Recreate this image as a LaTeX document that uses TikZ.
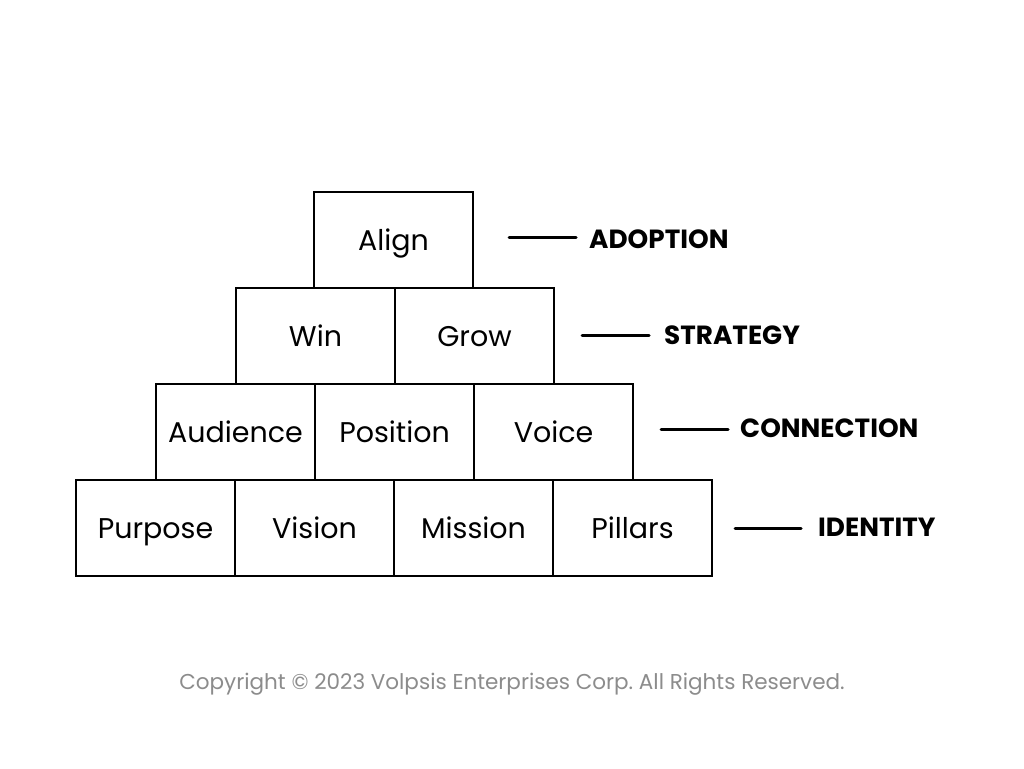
\documentclass[tikz,border=0pt]{standalone}
\usepackage{fontspec}
\setmainfont{Poppins}
\frenchspacing
\begin{document}
\begin{tikzpicture}[x=1pt,y=-1pt,
  blk/.style={draw=black,line width=2pt,minimum width=159pt,minimum height=96pt,inner sep=0pt,text height=20pt,text depth=0pt,font=\fontsize{28.5}{30}\selectfont},
  lvl/.style={anchor=west,inner sep=0pt,text height=17pt,text depth=0pt,font=\fontsize{26.3}{28}\selectfont\bfseries},
  tick/.style={line width=3pt,line cap=round}]
\useasboundingbox[fill=white] (0,0) rectangle (1024,768);
% row 1
\node[blk] (align) at (393.5,240) {Align};
% row 2
\node[blk] (win) at (315.5,336) {Win};
\node[blk] (grow) at (474.5,336) {Grow};
% row 3
\node[blk] (aud) at (235.5,432) {Audience};
\node[blk] (pos) at (394.5,432) {Position};
\node[blk] (voice) at (553.5,432) {Voice};
% row 4
\node[blk] (purp) at (155.5,528) {Purpose};
\node[blk] (vis) at (314.5,528) {Vision};
\node[blk] (miss) at (473.5,528) {Mission};
\node[blk] (pill) at (632.5,528) {Pillars};
% labels
\coordinate (a1) at (509,237); \coordinate (a2) at (576,237);
\node[lvl] (adop) at (589,239.5) {ADOPTION};
\coordinate (s1) at (582,335); \coordinate (s2) at (649,335);
\node[lvl] (strat) at (664,336) {STRATEGY};
\coordinate (c1) at (661,429); \coordinate (c2) at (728,429);
\node[lvl] (conn) at (740,428.5) {CONNECTION};
\coordinate (i1) at (735,528); \coordinate (i2) at (801,528);
\node[lvl] (ident) at (818,527.5) {IDENTITY};
\draw[tick] (a1) -- (a2);
\draw[tick] (s1) -- (s2);
\draw[tick] (c1) -- (c2);
\draw[tick] (i1) -- (i2);
\node[text=black!45,font=\fontsize{21.5}{24}\selectfont] (copy) at (512,684) {Copyright © 2023 Volpsis Enterprises Corp. All Rights Reserved.};
\end{tikzpicture}
\end{document}
